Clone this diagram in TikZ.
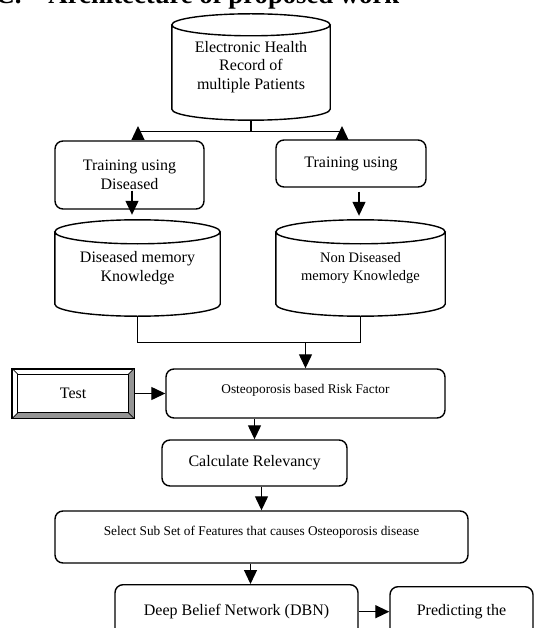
\documentclass[tikz,border=0pt]{standalone}
\usepackage{fontspec}
\setmainfont{Liberation Serif}
\usetikzlibrary{positioning,calc,arrows.meta}
\tikzset{rbox/.style={draw, line width=1.4pt, rounded corners=8pt, align=center, inner sep=0pt, font=\fontsize{16}{18.5}\selectfont}}
\tikzset{drum/.style={inner sep=0pt, align=center, font=\fontsize{16}{18.5}\selectfont}}
\tikzset{smalltext/.style={font=\fontsize{13.3}{16}\selectfont}}
\tikzset{wire/.style={draw, line width=1.3pt}}
\tikzset{arr/.style={wire, -{Triangle[length=14pt,width=13pt]}}}
\tikzset{cutbox/.style={rbox, anchor=north, inner ysep=0pt, text height=31pt, text depth=40pt}}
\tikzset{bevel/.style={fill=black!42}}
\newcommand{\drumline}[2]{%
  \draw[line width=1.4pt] let \p1=(#1.north west), \p2=(#1.south east), \n1={0.5*(\x2-\x1)} in
    ($(#1.north)+(0,-#2)$) ellipse [x radius=\n1, y radius=#2]
    (\x1,\y1-#2) -- (\x1,\y2+#2) arc [start angle=180, end angle=360, x radius=\n1, y radius=#2] -- (\x2,\y1-#2);}

\begin{document}
\begin{tikzpicture}[x=1pt, y=1pt]
  \useasboundingbox (0,0) rectangle (536,-628);
  \node[anchor=base west, font=\fontsize{26.7}{30}\bfseries\selectfont] (title) at (-8,-4) {C.\hspace{27pt}Architecture of proposed work};
  % stores
  \node[drum, minimum width=158pt, minimum height=106pt] (ehr) at (251,-67) {Electronic Health\\Record of\\multiple Patients};
  \drumline{ehr}{11pt}
  \node[rbox, minimum width=149pt, minimum height=68pt] (tl) at (129.5,-175) {Training using\\Diseased};
  \node[rbox, minimum width=150pt, minimum height=47pt] (tr) at (351,-163.5) {Training using};
  \node[drum, minimum width=165pt, minimum height=96pt] (dis) at (137.5,-268) {Diseased memory\\Knowledge};
  \drumline{dis}{12pt}
  \node[drum, minimum width=169pt, minimum height=96pt, font=\fontsize{14.5}{18}\selectfont] (nondis) at (360.5,-268) {Non Diseased\\memory Knowledge};
  \drumline{nondis}{12pt}
  % main flow
  \node[rbox, smalltext, minimum width=279pt, minimum height=49pt, text height=9pt, text depth=10pt] (osteo) at (305.5,-393.5) {Osteoporosis based Risk Factor};
  \node[draw, line width=1.4pt, minimum width=121pt, minimum height=49pt, inner sep=0pt, font=\fontsize{16}{18.5}\selectfont, left=31pt of osteo] (test) {Test};
  \fill[bevel] (test.north east) -- (test.south east) -- (test.south west)
     -- ([shift={(6pt,6pt)}]test.south west) -- ([shift={(-6pt,6pt)}]test.south east)
     -- ([shift={(-6pt,-6pt)}]test.north east) -- cycle;
  \draw[line width=1.4pt] (test.north west) rectangle (test.south east);
  \draw[line width=1pt] ([shift={(6pt,-6pt)}]test.north west) rectangle ([shift={(-6pt,6pt)}]test.south east);
  \draw[line width=0.8pt] (test.north west) -- ++(6pt,-6pt) (test.north east) -- ++(-6pt,-6pt)
     (test.south west) -- ++(6pt,6pt) (test.south east) -- ++(-6pt,6pt);
  \node[rbox, minimum width=185pt, minimum height=46pt] (calc) at (254.5,-463) {Calculate Relevancy};
  \node[rbox, smalltext, minimum width=413pt, minimum height=52pt, text height=9pt, text depth=13pt] (sel) at (261.5,-537) {Select Sub Set of Features that causes Osteoporosis disease};
  \node[cutbox, minimum width=243pt] (dbn) at (236.5,-584) {Deep Belief Network (DBN)};
  \node[cutbox, minimum width=143pt, text height=29pt] (pred) at (461.5,-586) {Predicting the};
  % connectors
  \coordinate (split) at ([yshift=-11.5pt]ehr.south);
  \coordinate (jl) at (138,-131.5);
  \coordinate (jr) at (342,-131.5);
  \draw[wire] (ehr.south) -- (split);
  \draw[wire] (jl) -- (jr);
  \draw[arr] ([yshift=-7.5pt]jl) -- ([yshift=5.5pt]jl);
  \draw[arr] ([yshift=-7.5pt]jr) -- ([yshift=5.5pt]jr);
  \draw[arr, shorten >=5pt] ([xshift=2.5pt,yshift=19pt]tl.south) -- ([xshift=2.5pt]tl.south |- dis.north);
  \draw[arr, shorten >=4pt] ([xshift=8pt,yshift=-4pt]tr.south) -- ([xshift=8pt]tr.south |- nondis.north);
  \coordinate (merge) at ([yshift=26pt]osteo.north);
  \draw[wire] (dis.south) |- (merge) -| (nondis.south);
  \draw[arr] (merge) -- (osteo.north);
  \draw[arr] (test) -- (osteo);
  \draw[arr] (calc.north |- osteo.south) -- (calc.north);
  \draw[arr] (sel.north |- calc.south) -- (sel.north);
  \draw[arr] ([xshift=14pt]dbn.north |- sel.south) -- ([xshift=14pt]dbn.north);
  \draw[arr] ([yshift=4pt]dbn.base east) -- ([yshift=4pt]pred.base west);
\end{tikzpicture}
\end{document}
